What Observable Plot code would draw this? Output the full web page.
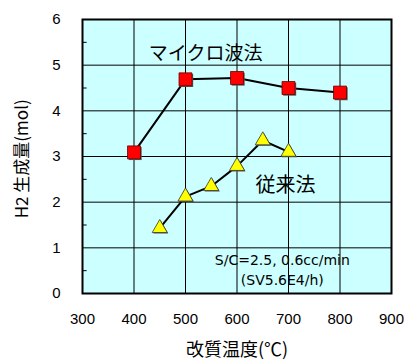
<!DOCTYPE html>
<html><head><meta charset="utf-8">
<script src="https://cdn.jsdelivr.net/npm/d3@7"></script>
<script src="https://cdn.jsdelivr.net/npm/@observablehq/plot@0.6"></script>
<style>body{margin:0;background:#fff}</style>
</head><body><div id="chart"></div>
<script>
const mwTemp = [400, 500, 600, 700, 800];
const mwH2 = [3.09, 4.69, 4.72, 4.50, 4.40];
const convTemp = [450, 500, 550, 600, 650, 700];
const convH2 = [1.43, 2.12, 2.35, 2.79, 3.35, 3.10];
const xTicks = [300, 400, 500, 600, 700, 800, 900];
const yTicks = [0, 1, 2, 3, 4, 5, 6];
const yMinor = [0.5, 1.5, 2.5, 3.5, 4.5, 5.5];

const mw = mwTemp.map((t, i) => ({t, v: mwH2[i]}));
const conv = convTemp.map((t, i) => ({t, v: convH2[i]}));
const font = "'Liberation Sans', Arial, sans-serif";
const jp = "'Noto Sans CJK JP', sans-serif";

const chart = Plot.plot({
  width: 406, height: 360,
  marginLeft: 82, marginRight: 15, marginTop: 19, marginBottom: 67,
  style: {fontFamily: font, fontSize: "15px", color: "#000", background: "#fff"},
  x: {domain: [300, 900], label: null},
  y: {domain: [0, 6], label: null},
  marks: [
    Plot.frame({fill: "#ccffff", stroke: null}),
    Plot.ruleX(xTicks.slice(1, -1), {stroke: "#000", strokeWidth: 1}),
    Plot.ruleY(yTicks.slice(1, -1), {stroke: "#000", strokeWidth: 1}),
    Plot.ruleY(yMinor, {x1: 300, x2: 309, stroke: "#000", strokeWidth: 1}),
    Plot.frame({stroke: "#000", strokeWidth: 2}),
    Plot.axisX(xTicks, {tickSize: 0, tickPadding: 20, fontSize: 15}),
    Plot.axisY(yTicks, {tickSize: 0, tickPadding: 22, fontSize: 15}),
    Plot.line(mw, {x: "t", y: "v", stroke: "#000", strokeWidth: 2}),
    Plot.line(conv, {x: "t", y: "v", stroke: "#000", strokeWidth: 2}),
    Plot.dot(mw, {x: "t", y: "v", symbol: "square", r: 7.3, fill: "#555", stroke: "none", dx: 1.2, dy: 1.2}),
    Plot.dot(mw, {x: "t", y: "v", symbol: "square", r: 7.3, fill: "#ff0000", stroke: "#600", strokeWidth: 0.8}),
    Plot.dot(conv, {x: "t", y: "v", symbol: "triangle", r: 5.6, fill: "#555", stroke: "none", dx: 1, dy: 1}),
    Plot.dot(conv, {x: "t", y: "v", symbol: "triangle", r: 5.6, fill: "#ffff00", stroke: "#333", strokeWidth: 0.8}),
    Plot.text(["マイクロ波法"], {x: 539, y: 5.25, fontSize: 19, fontFamily: jp}),
    Plot.text(["従来法"], {x: 694, y: 2.36, fontSize: 20, fontFamily: jp}),
    Plot.text(["S/C=2.5, 0.6cc/min"], {x: 688, y: 0.72, fontSize: 14, fontFamily: "'DejaVu Sans', sans-serif"}),
    Plot.text(["(SV5.6E4/h)"], {x: 688, y: 0.29, fontSize: 14, fontFamily: "'DejaVu Sans', sans-serif"}),
    Plot.text(["改質温度(℃)"], {x: 600, y: 0, dy: 57, fontSize: 18, fontFamily: jp}),
    Plot.text(["H2 生成量(mol)"], {x: 300, y: 2.95, dx: -60, rotate: -90, fontSize: 17, fontFamily: jp})
  ]
});
document.getElementById("chart").appendChild(chart);
</script></body></html>
